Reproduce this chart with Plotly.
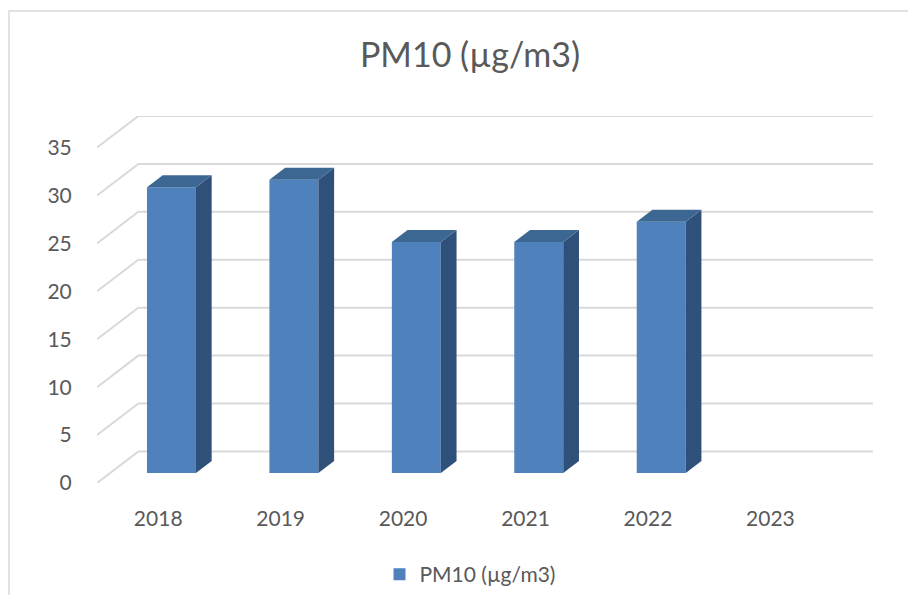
import plotly.graph_objects as go

# ---- data ----
years = ["2018", "2019", "2020", "2021", "2022", "2023"]
pm10 = [29.8, 30.6, 24.1, 24.1, 26.2, None]
y_ticks = [0, 5, 10, 15, 20, 25, 30, 35]
series_name = "PM10 (µg/m3)"
title_text = "PM10 (µg/m3)"

# ---- 3D (oblique) styling constants ----
DX = 0.338      # depth vector, x (category units)
DY = 3.295      # depth vector, y (value units)
F0 = 0.32       # bar front plane as fraction of depth
FD = 0.38       # bar depth as fraction of depth
BW = 0.4        # bar width (category units)

C_FRONT = "#4F81BD"
C_TOP = "#3D6793"
C_SIDE = "#2F5179"
C_GRID = "#D9D9D9"
C_TEXT = "#595959"
FONT = "Lato"

OFF = 8  # page body margin
n = len(years)
x_idx = list(range(n))

fig = go.Figure()

shapes = []
# back-wall gridlines + side diagonals (drawn below traces)
for v in y_ticks:
    shapes.append(dict(type="path", xref="x", yref="y", layer="below",
                       path=f"M {-0.5},{v} L {-0.5 + DX},{v + DY} L {n - 0.5 + DX},{v + DY}",
                       line=dict(color=C_GRID, width=2)))

bx0 = F0 * DX
by0 = F0 * DY
ddx = FD * DX
ddy = FD * DY

# front faces
xs = [i + bx0 for i in x_idx]
fig.add_trace(go.Bar(x=xs, y=pm10, base=by0, width=BW, name=series_name,
                     marker=dict(color=C_FRONT, line=dict(width=0)),
                     showlegend=True))

# side and top faces
for i, v in zip(x_idx, pm10):
    if v is None:
        continue
    xl = i + bx0 - BW / 2
    xr = i + bx0 + BW / 2
    yb = by0
    yt = by0 + v
    fig.add_trace(go.Scatter(
        x=[xr, xr + ddx, xr + ddx, xr, xr],
        y=[yb, yb + ddy, yt + ddy, yt, yb],
        fill="toself", fillcolor=C_SIDE, mode="lines",
        line=dict(width=0, color=C_SIDE), hoverinfo="skip", showlegend=False))
    fig.add_trace(go.Scatter(
        x=[xl, xr, xr + ddx, xl + ddx, xl],
        y=[yt, yt, yt + ddy, yt + ddy, yt],
        fill="toself", fillcolor=C_TOP, mode="lines",
        line=dict(width=0, color=C_TOP), hoverinfo="skip", showlegend=False))

# figure sized so the page (with body margins) fits the window exactly
W, H = 916 - 2 * OFF, 603 - 2 * OFF
# desired plot area in page pixels
PX0, PX1, PY0, PY1 = 97, 873, 116, 483.3
L = PX0 - OFF
T = PY0 - OFF
R = W - (PX1 - OFF)
B = H - (PY1 - OFF)
pw = W - L - R
ph = H - T - B
base_y = PY1  # plot bottom, page px


def px_to_paper_x(px):
    return (px - PX0) / pw


def px_to_paper_y(py):
    return (base_y - py) / ph


shapes.append(dict(type="rect", xref="paper", yref="paper",
                   x0=px_to_paper_x(9), x1=px_to_paper_x(960),
                   y0=px_to_paper_y(660), y1=px_to_paper_y(11),
                   line=dict(color="#D9D9D9", width=1.5),
                   fillcolor="rgba(0,0,0,0)", layer="below"))

fig.update_layout(
    width=W, height=H,
    margin=dict(l=L, r=R, t=T, b=B, autoexpand=False),
    paper_bgcolor="white", plot_bgcolor="white",
    font=dict(family=FONT, color=C_TEXT, size=20),
    title=dict(text=title_text, x=(470 - OFF) / W, xanchor="center",
               yref="container", y=1 - (55 - OFF) / H, yanchor="middle",
               font=dict(size=34, color=C_TEXT, family=FONT)),
    showlegend=True,
    legend=dict(orientation="h", x=px_to_paper_x(470), xanchor="center",
                y=px_to_paper_y(575), yanchor="middle",
                font=dict(size=21, color=C_TEXT), bgcolor="rgba(0,0,0,0)"),
    xaxis=dict(range=[-0.5, n - 0.5 + DX], tickvals=x_idx, ticktext=years,
               showgrid=False, zeroline=False, showline=False, automargin=False,
               ticks="outside", ticklen=17, tickcolor="rgba(0,0,0,0)",
               tickfont=dict(size=21, color=C_TEXT), fixedrange=True),
    yaxis=dict(range=[0, 35 + DY], tickvals=y_ticks,
               showgrid=False, zeroline=False, showline=False, automargin=False,
               ticks="outside", ticklen=20, tickcolor="rgba(0,0,0,0)",
               tickfont=dict(size=21, color=C_TEXT), fixedrange=True),
    shapes=shapes,
)

fig.write_html("out.html")
